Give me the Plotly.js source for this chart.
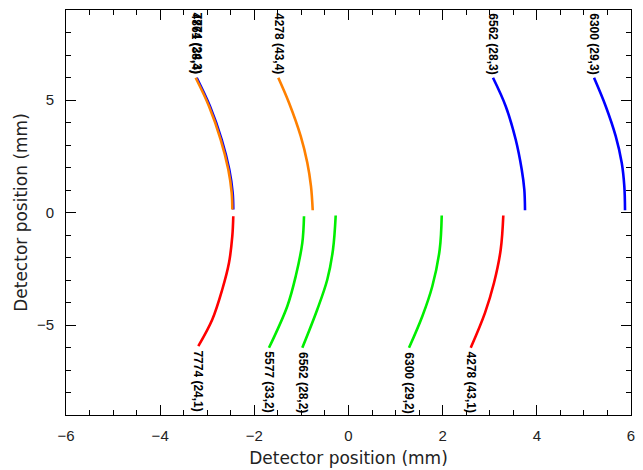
<!DOCTYPE html>
<html>
<head>
<meta charset="utf-8">
<script src="https://cdn.plot.ly/plotly-3.0.1.min.js"></script>
<style>html,body{margin:0;padding:0;background:#fff;}#chart{width:643px;height:470px;}</style>
</head>
<body>
<div id="chart"></div>
<script>
// ---- Data (detector positions in mm) ----
// Upper half (quadrants 3 and 4), listed from the top end down to y≈0
const q3_7774_x = [-3.224, -2.942, -2.693, -2.532, -2.460, -2.447];
const q3_7774_y = [5.987, 4.724, 3.244, 1.911, 0.876, 0.133];

const q4_4861_x = [-3.246, -2.963, -2.715, -2.553, -2.481, -2.468];
const q4_4861_y = [5.987, 4.724, 3.244, 1.911, 0.876, 0.133];

const q4_4278_x = [-1.491, -1.264, -1.015, -0.875, -0.797, -0.760];
const q4_4278_y = [5.987, 4.876, 3.391, 2.209, 1.169, 0.102];

const q3_6562_x = [3.069, 3.339, 3.551, 3.679, 3.734, 3.749];
const q3_6562_y = [5.987, 4.724, 3.244, 1.911, 1.022, 0.102];

const q3_6300_x = [5.215, 5.463, 5.675, 5.803, 5.858, 5.873];
const q3_6300_y = [5.987, 4.724, 3.391, 2.209, 1.169, 0.102];

// Lower half (quadrants 1 and 2), listed from y≈0 down to the bottom end
const q1_7774_x = [-2.447, -2.468, -2.538, -2.681, -2.893, -3.190];
const q1_7774_y = [-0.164, -1.053, -2.236, -3.422, -4.756, -5.942];

const q2_5577_x = [-0.945, -0.981, -1.121, -1.300, -1.689];
const q2_5577_y = [-0.164, -1.347, -2.831, -4.164, -6.013];

const q2_6562_x = [-0.272, -0.329, -0.450, -0.663, -0.981];
const q2_6562_y = [-0.133, -1.644, -2.978, -4.311, -6.013];

const q2_6300_x = [1.980, 1.937, 1.780, 1.568, 1.285];
const q2_6300_y = [-0.133, -1.644, -3.276, -4.609, -6.013];

const q1_4278_x = [3.288, 3.233, 3.091, 2.899, 2.596];
const q1_4278_y = [-0.133, -1.644, -3.124, -4.458, -6.013];

// Labels: wavelength (order, quadrant)
const labelsTop = ["7774 (24,3)", "4861 (38,4)", "4278 (43,4)", "6562 (28,3)", "6300 (29,3)"];
const labelsBottom = ["7774 (24,1)", "5577 (33,2)", "6562 (28,2)", "6300 (29,2)", "4278 (43,1)"];

const quadColors = {1: "#ff0000", 2: "#00ee00", 3: "#0000ff", 4: "#ff8000"};

const topSeries = [
  [q3_7774_x, q3_7774_y, 3],
  [q4_4861_x, q4_4861_y, 4],
  [q4_4278_x, q4_4278_y, 4],
  [q3_6562_x, q3_6562_y, 3],
  [q3_6300_x, q3_6300_y, 3]
];
const bottomSeries = [
  [q1_7774_x, q1_7774_y, 1],
  [q2_5577_x, q2_5577_y, 2],
  [q2_6562_x, q2_6562_y, 2],
  [q2_6300_x, q2_6300_y, 2],
  [q1_4278_x, q1_4278_y, 1]
];

const traces = [];
const annotations = [];
const labFont = {family: "Liberation Sans, Arial, sans-serif", size: 12, color: "#000", weight: "bold"};

topSeries.forEach((s, i) => {
  traces.push({x: s[0], y: s[1], type: "scatter", mode: "lines",
    line: {color: quadColors[s[2]], width: 2.6, shape: "spline"}, hoverinfo: "skip"});
  annotations.push({x: s[0][0], y: s[1][0], xref: "x", yref: "y", text: labelsTop[i],
    showarrow: false, textangle: 90, xanchor: "center", yanchor: "bottom", yshift: 3,
    borderpad: 0, font: labFont});
});
bottomSeries.forEach((s, i) => {
  const n = s[0].length - 1;
  traces.push({x: s[0], y: s[1], type: "scatter", mode: "lines",
    line: {color: quadColors[s[2]], width: 2.6, shape: "spline"}, hoverinfo: "skip"});
  annotations.push({x: s[0][n], y: s[1][n], xref: "x", yref: "y", text: labelsBottom[i],
    showarrow: false, textangle: 90, xanchor: "center", yanchor: "top", yshift: -3,
    borderpad: 0, font: labFont});
});

const tickFont = {family: "Liberation Sans, Arial, sans-serif", size: 15, color: "#222"};
const titleFont = {family: "DejaVu Sans, sans-serif", size: 17, color: "#222"};

const layout = {
  width: 643, height: 470,
  margin: {l: 66, r: 12, t: 10, b: 55},
  paper_bgcolor: "#fff", plot_bgcolor: "#fff",
  showlegend: false,
  font: tickFont,
  xaxis: {
    range: [-6, 6], dtick: 2, tick0: 0, ticks: "inside", ticklen: 10, tickwidth: 1, tickcolor: "#000",
    minor: {dtick: 0.5, ticks: "inside", ticklen: 5, tickcolor: "#000"},
    showline: true, linecolor: "#000", linewidth: 1, mirror: "ticks",
    showgrid: false, zeroline: false, ticklabelstandoff: 7,
    tickfont: tickFont,
    title: {text: "Detector position (mm)", font: titleFont, standoff: 9}
  },
  yaxis: {
    range: [-9, 9], dtick: 5, tick0: 0, ticks: "inside", ticklen: 10, tickwidth: 1, tickcolor: "#000",
    minor: {dtick: 1, ticks: "inside", ticklen: 5, tickcolor: "#000"},
    showline: true, linecolor: "#000", linewidth: 1, mirror: "ticks",
    showgrid: false, zeroline: false, ticklabelstandoff: 8,
    tickfont: tickFont,
    title: {text: "Detector position (mm)", font: titleFont, standoff: 4}
  },
  annotations: annotations
};

Plotly.newPlot("chart", traces, layout, {displayModeBar: false, staticPlot: true});
</script>
</body>
</html>
